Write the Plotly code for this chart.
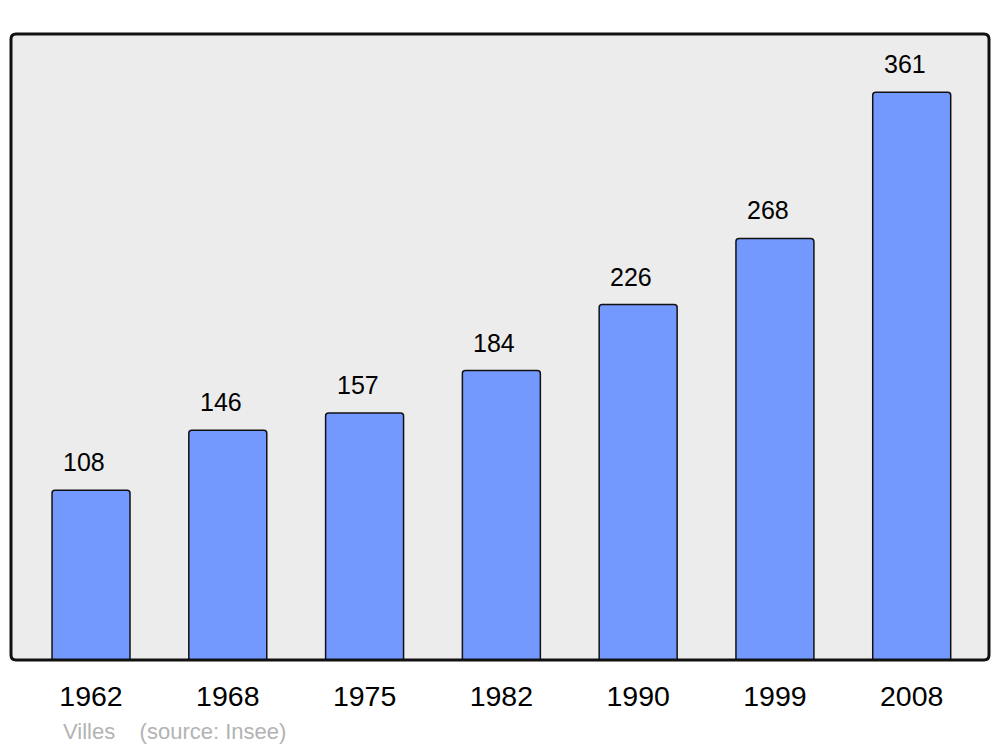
import plotly.graph_objects as go

years = ["1962", "1968", "1975", "1982", "1990", "1999", "2008"]
population = [108, 146, 157, 184, 226, 268, 361]
footer_text = "Villes    (source: Insee)"

FONT = "Liberation Sans, Arial, sans-serif"

# page body has an 8px offset; figure placed at (8, 8)
OFF = 8
W, H = 992, 739
L, T = 11 - OFF, 34 - OFF
R = W - (989 - OFF)
B = H - (660 - OFF)
pw, ph = W - L - R, H - T - B

fig = go.Figure()
fig.add_trace(go.Bar(
    x=years,
    y=population,
    width=0.57,
    marker=dict(color="#7399ff", line=dict(color="#111111", width=1.5), cornerradius=3),
    hoverinfo="skip",
))

for i, v in enumerate(population):
    fig.add_annotation(
        x=i, y=v, text=str(v), showarrow=False, xref="x", yref="y",
        yanchor="bottom", yshift=12, xshift=-7,
        font=dict(family=FONT, size=25, color="#000000"),
    )

fig.add_annotation(
    x=(61 - 11) / pw, y=(660 - 731) / ph, xref="paper", yref="paper",
    text=footer_text, showarrow=False, xanchor="left", yanchor="middle",
    font=dict(family=FONT, size=22, color="#b3b3b3"),
)

# rounded frame
r = 5
x0, y0, x1, y1 = 0, 0, 1, 1
rx, ry = r / pw, r / ph
path = (f"M {x0+rx},{y1} L {x1-rx},{y1} Q {x1},{y1} {x1},{y1-ry} "
        f"L {x1},{y0+ry} Q {x1},{y0} {x1-rx},{y0} L {x0+rx},{y0} "
        f"Q {x0},{y0} {x0},{y0+ry} L {x0},{y1-ry} Q {x0},{y1} {x0+rx},{y1} Z")
fig.add_shape(type="path", path=path, xref="paper", yref="paper",
              line=dict(color="#111111", width=3), fillcolor="rgba(0,0,0,0)", layer="above")

fig.update_layout(
    width=W, height=H,
    margin=dict(l=L, r=R, t=T, b=B),
    paper_bgcolor="#ffffff",
    plot_bgcolor="#ececec",
    showlegend=False,
    xaxis=dict(
        type="category", range=[-0.585, 6.565], showgrid=False, zeroline=False,
        showline=False, ticks="", ticklabelstandoff=16,
        tickfont=dict(family=FONT, size=28.5, color="#000000"),
    ),
    yaxis=dict(range=[0, 398], showgrid=False, zeroline=False, showline=False,
               showticklabels=False, ticks=""),
)

fig.write_html("out.html")
